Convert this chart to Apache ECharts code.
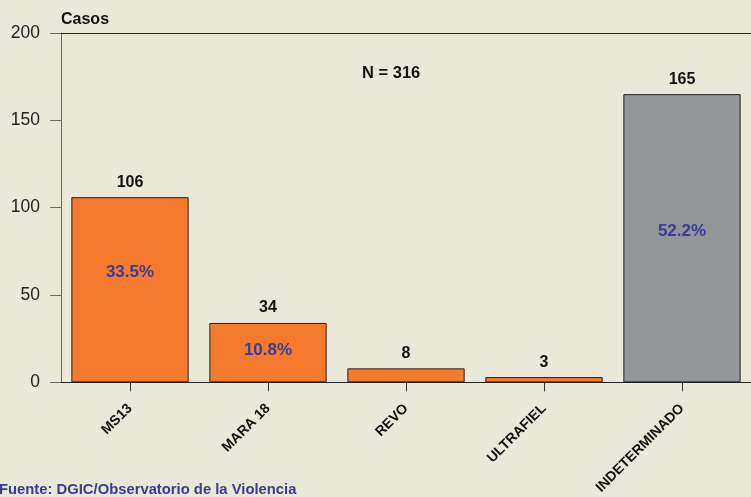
<!DOCTYPE html>
<html><head><meta charset="utf-8">
<script src="https://cdn.jsdelivr.net/npm/echarts@6/dist/echarts.min.js"></script>
<style>html,body{margin:0;padding:0;background:#eae9d9;}#c{width:751px;height:497px;}</style>
</head><body><div id="c"></div>
<script>
const categories = ['MS13', 'MARA 18', 'REVO', 'ULTRAFIEL', 'INDETERMINADO'];
const casos = [106, 34, 8, 3, 165];
const pctLabels = ['33.5%', '10.8%', '', '', '52.2%'];
const yTicks = [0, 50, 100, 150, 200];
const barColors = ['#f47a2e', '#f47a2e', '#f47a2e', '#f47a2e', '#939598'];
const pctOffsets = [[0, -17], [0, -2], [0, 0], [0, 0], [0, -7]];

const F = 'Liberation Sans, Arial, sans-serif';
const chart = echarts.init(document.getElementById('c'));
chart.setOption({
  backgroundColor: '#eae9d9',
  animation: false,
  grid: { left: 61, right: 0, top: 33, bottom: 114, containLabel: false },
  title: [
    { text: 'Casos', left: 56, top: 7, textStyle: { fontFamily: F, fontSize: 16, fontWeight: 'bold', color: '#111' } },
    { text: 'N = 316', left: 357, top: 60, textStyle: { fontFamily: F, fontSize: 16.5, fontWeight: 'bold', color: '#111' } },
    { text: 'Fuente: DGIC/Observatorio de la Violencia', left: -6, top: 477, textStyle: { fontFamily: F, fontSize: 14.8, fontWeight: 'bold', color: '#3a3a98' } }
  ],
  xAxis: [
    {
      type: 'category', data: categories, position: 'bottom',
      axisLine: { show: true, lineStyle: { color: '#222', width: 1 } },
      axisTick: { show: true, alignWithLabel: true, length: 9, lineStyle: { color: '#333' } },
      axisLabel: { rotate: 45, interval: 0, margin: 24, fontFamily: F, fontSize: 14, fontWeight: 'bold', color: '#111' }
    },
    {
      type: 'category', data: categories, position: 'top',
      axisLine: { show: true, lineStyle: { color: '#222', width: 1 } },
      axisTick: { show: false }, axisLabel: { show: false }
    }
  ],
  yAxis: {
    type: 'value', min: yTicks[0], max: yTicks[yTicks.length - 1], interval: 50,
    axisLine: { show: true, lineStyle: { color: '#666', width: 1 } },
    axisTick: { show: true, length: 11, lineStyle: { color: '#666' } },
    splitLine: { show: false },
    axisLabel: { margin: 21, fontFamily: F, fontSize: 17.5, color: '#222' }
  },
  series: [
    {
      type: 'bar', xAxisIndex: 0, barWidth: '85%',
      data: casos.map((v, i) => ({ value: v, itemStyle: { color: barColors[i] } })),
      itemStyle: { borderColor: '#222', borderWidth: 1 },
      label: { show: true, position: 'top', distance: 7, fontFamily: F, fontSize: 16, fontWeight: 'bold', color: '#111' }
    },
    {
      type: 'bar', xAxisIndex: 0, barWidth: '85%', barGap: '-100%', silent: true,
      data: casos.map((v, i) => ({ value: v, label: { formatter: pctLabels[i], offset: pctOffsets[i] } })),
      itemStyle: { color: 'rgba(0,0,0,0)' },
      label: { show: true, position: 'inside', fontFamily: F, fontSize: 17, fontWeight: 'bold', color: '#3a3a98' }
    }
  ]
});
</script></body></html>
